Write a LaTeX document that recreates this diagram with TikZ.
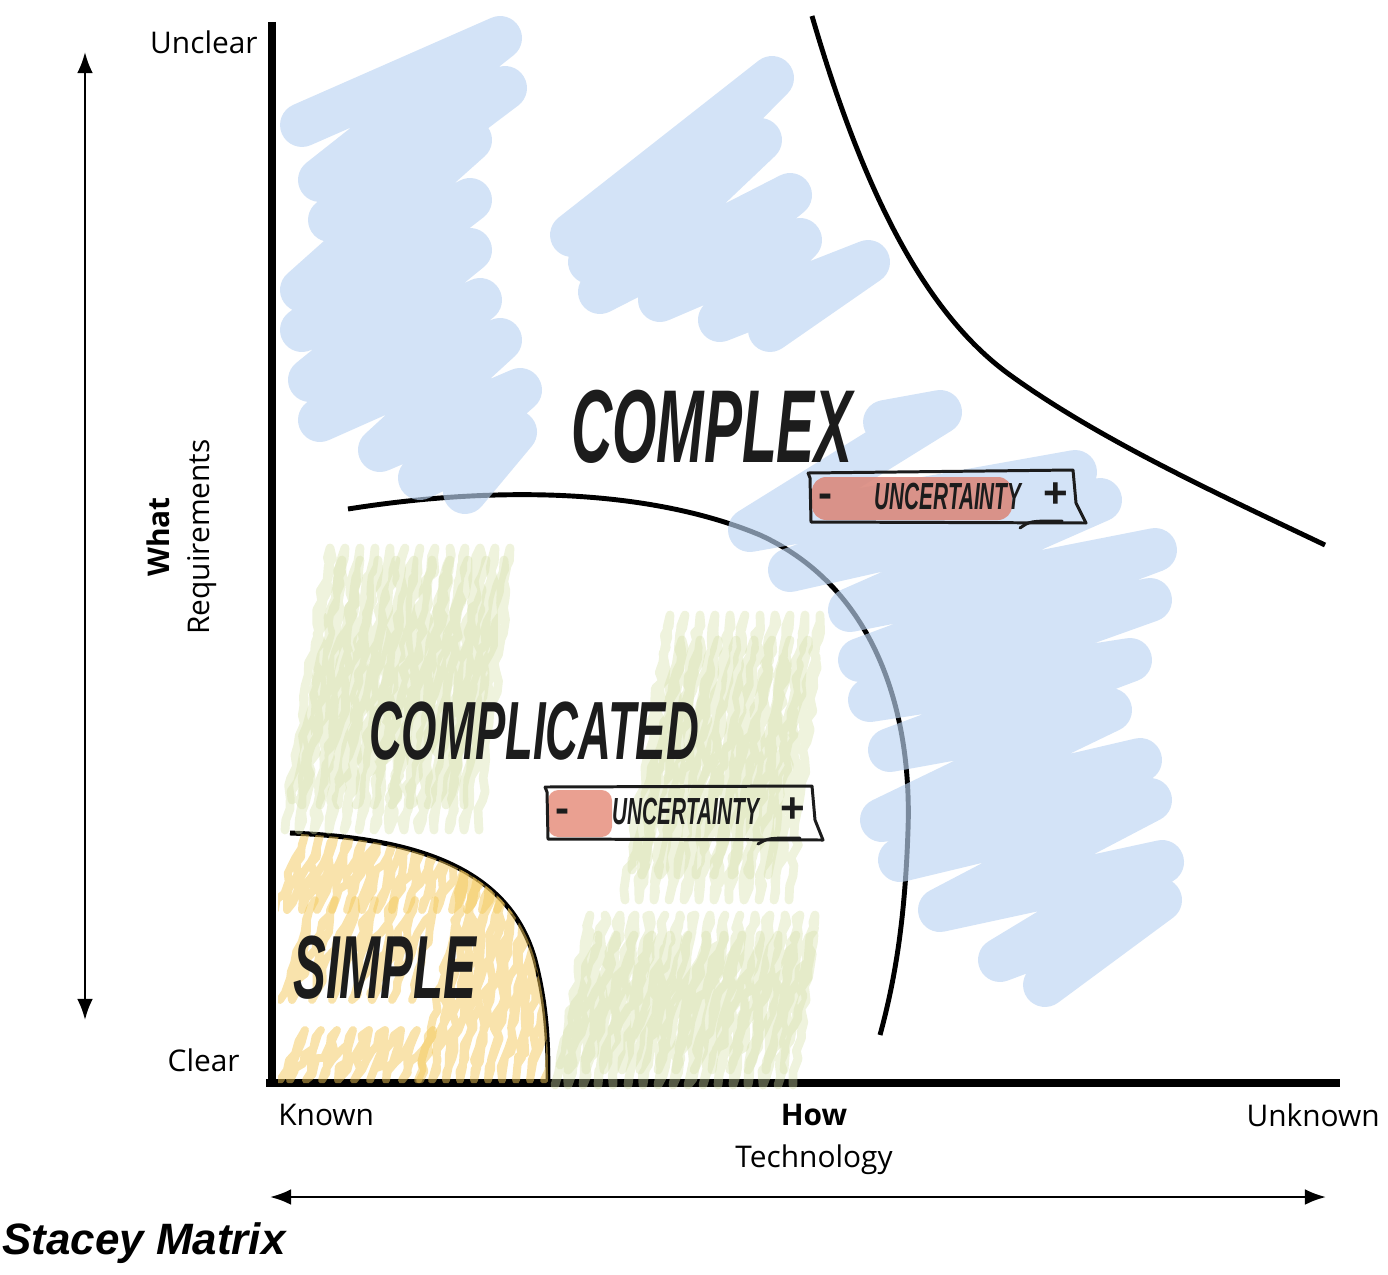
\documentclass[tikz,border=0pt]{standalone}
\usepackage{fontspec}
\setmainfont{Open Sans}
\newfontfamily\titlefont{Liberation Sans}
\newfontfamily\zonefont[FakeStretch=0.55]{Liberation Sans}
\usetikzlibrary{arrows.meta,decorations.pathmorphing}
\definecolor{sblue}{RGB}{188,212,242}
\definecolor{sgreen}{RGB}{214,224,170}
\definecolor{syellow}{RGB}{243,200,90}
\definecolor{sred}{RGB}{218,138,126}
\definecolor{sred2}{RGB}{234,160,145}
\definecolor{ink}{RGB}{28,28,28}

\tikzset{
  lbl/.style={font=\fontsize{17}{20}\selectfont, inner sep=0pt},
  zone/.style={font=\zonefont\bfseries\itshape\fontsize{#1}{#1}\selectfont, text=ink, inner sep=0pt},
  unc/.style={font=\zonefont\bfseries\itshape\fontsize{21.5}{24}\selectfont, text=ink, inner sep=0pt},
  sgn/.style={font=\titlefont\bfseries\fontsize{24}{26}\selectfont, text=ink, inner sep=0pt, anchor=base},
  bscrib/.style={draw=sblue, draw opacity=0.65, line width=25pt, line cap=round, line join=round},
  gscrib/.style={draw=sgreen, draw opacity=0.4, line width=5pt, line cap=round, line join=round,
    decorate, decoration={random steps, segment length=6pt, amplitude=2pt}},
  yscrib/.style={draw=syellow, draw opacity=0.5, line width=4.5pt, line cap=round, line join=round,
    decorate, decoration={random steps, segment length=6pt, amplitude=2pt}},
  border/.style={line width=2.8pt, black},
  boxline/.style={line width=1.7pt, ink, line join=round, line cap=round},
  axis/.style={line width=4.5pt, black},
  dim/.style={line width=1.4pt, {Latex[length=12pt,width=9pt]}-{Latex[length=12pt,width=9pt]}}
}

\begin{document}
\begin{tikzpicture}[x=0.02cm, y=-0.02cm]
  \useasboundingbox (0,0) rectangle (1388,1274);
  \pgfmathsetseed{7}

  % axes
  \coordinate (origin) at (272,1083);
  \coordinate (ytop) at (272,22);
  \coordinate (xend) at (1340,1083);
  \draw[axis] (ytop) -- (272,1087);
  \draw[axis] (266,1083) -- (xend);

  % domain borders
  \draw[border] (812,16) .. controls (860,180) and (920,310) .. (1010,375)
    .. controls (1100,440) and (1220,495) .. (1325,545);
  \draw[border] (348,509) .. controls (480,488) and (640,485) .. (760,535)
    .. controls (880,590) and (912,720) .. (908,830)
    .. controls (905,920) and (895,980) .. (880,1035);
  \draw[border] (290,833) .. controls (420,838) and (510,870) .. (535,960)
    .. controls (548,1010) and (548,1050) .. (548,1083);

  % blue scribbles -- complex
  \draw[bscrib] (302,125) -- (500,38) -- (320,180) -- (505,88) -- (330,220) -- (470,140)
    -- (302,290) -- (470,200) -- (302,330) -- (470,250) -- (310,380) -- (480,300)
    -- (320,420) -- (500,340) -- (380,450) -- (520,390) -- (420,478) -- (515,432) -- (465,492);
  \draw[bscrib] (572,235) -- (772,78) -- (590,262) -- (760,140) -- (600,292) -- (790,195)
    -- (660,300) -- (800,240) -- (720,320) -- (868,262) -- (770,330);
  \draw[bscrib] (885,422) -- (940,412) -- (750,530) -- (1075,472) -- (790,570) -- (1100,500)
    -- (850,610) -- (1155,550) -- (860,660) -- (1150,600) -- (870,700) -- (1130,660)
    -- (890,750) -- (1110,710) -- (882,820) -- (1140,760) -- (900,860) -- (1150,800)
    -- (940,910) -- (1162,862) -- (1000,960) -- (1160,900) -- (1045,985);

  % green scribbles -- complicated
  \draw[gscrib] (285,830) \foreach \x in {285,300,...,470} { -- (\x+45,548) -- (\x+14,830) };
  \draw[gscrib] (292,800) \foreach \x in {292,310,...,460} { -- (\x+50,560) -- (\x+10,805) };
  \draw[gscrib] (625,900) \foreach \x in {625,640,...,780} { -- (\x+45,615) -- (\x+14,900) };
  \draw[gscrib] (632,870) \foreach \x in {632,650,...,775} { -- (\x+50,640) -- (\x+10,875) };
  \draw[gscrib] (555,1085) \foreach \x in {555,570,...,790} { -- (\x+35,915) -- (\x+13,1085) };
  \draw[gscrib] (560,1065) \foreach \x in {560,578,...,785} { -- (\x+38,935) -- (\x+8,1070) };

  % yellow scribbles -- simple
  \begin{scope}
    \clip (278,833) .. controls (420,838) and (510,870) .. (535,960)
      .. controls (548,1010) and (548,1050) .. (548,1083) -- (278,1083) -- cycle;
    \draw[yscrib] (275,910) \foreach \x in {275,290,...,540} { -- (\x+30,835) -- (\x+12,910) };
    \draw[yscrib] (420,1080) \foreach \x in {420,434,...,540} { -- (\x+45,870) -- (\x+12,1080) };
    \draw[yscrib] (280,1080) \foreach \x in {280,296,...,420} { -- (\x+25,1030) -- (\x+10,1080) };
    \draw[yscrib] (280,1000) \foreach \x in {280,300,...,400} { -- (\x+35,900) -- (\x+12,1000) };
  \end{scope}

  % uncertainty bar -- complex
  \fill[sred, opacity=0.9, rounded corners=8pt] (812,477) rectangle (1012,520);
  \draw[boxline] (808,473) -- (810,478) -- (811,522) -- (1086,523) -- (1076,503) -- (1073,470) -- (808,473);
  \draw[boxline] (1020,528) .. controls (1030,521) .. (1062,521);
  \node[unc] (unc1) at (948,496) {UNCERTAINTY};
  \node[sgn] (minus1) at (826,507) {-};
  \node[sgn] (plus1) at (1056,507) {+};

  % uncertainty bar -- complicated
  \fill[sred2, rounded corners=6pt] (548,790) rectangle (612,837);
  \draw[boxline] (545,787) -- (547,792) -- (548,839) -- (823,840) -- (815,820) -- (812,786) -- (545,787);
  \draw[boxline] (758,844) .. controls (768,838) .. (800,838);
  \node[unc] (unc2) at (686,811) {UNCERTAINTY};
  \node[sgn] (minus2) at (563,822) {-};
  \node[sgn] (plus2) at (793,822) {+};

  % domain names
  \node[zone=59] (complex) at (712,427) {COMPLEX};
  \node[zone=47] (complicated) at (534,731) {COMPLICATED};
  \node[zone=51] (simple) at (385,968) {SIMPLE};

  % axis labels
  \node[lbl, anchor=east] (unclear) at (258,42) {Unclear};
  \node[lbl, anchor=east] (clear) at (240,1060) {Clear};
  \node[lbl, anchor=west] (known) at (278,1115) {Known};
  \node[lbl, font=\fontsize{17}{20}\selectfont\bfseries] (how) at (814,1115) {How};
  \node[lbl, anchor=east] (unknown) at (1380,1115) {Unknown};
  \node[lbl] (tech) at (814,1160) {Technology};
  \node[lbl, rotate=90, font=\fontsize{17}{20}\selectfont\bfseries] (what) at (158,537) {What};
  \node[lbl, rotate=90] (req) at (202,537) {Requirements};

  % double arrows
  \coordinate (wtop) at (85,52);
  \coordinate (wbot) at (85,1020);
  \coordinate (hleft) at (270,1197);
  \coordinate (hright) at (1326,1197);
  \draw[dim] (wbot) -- (wtop);
  \draw[dim] (hleft) -- (hright);

  \node[anchor=west, inner sep=0pt, font=\titlefont\bfseries\itshape\fontsize{25}{28}\selectfont] (title) at (2,1243) {Stacey Matrix};
\end{tikzpicture}
\end{document}
